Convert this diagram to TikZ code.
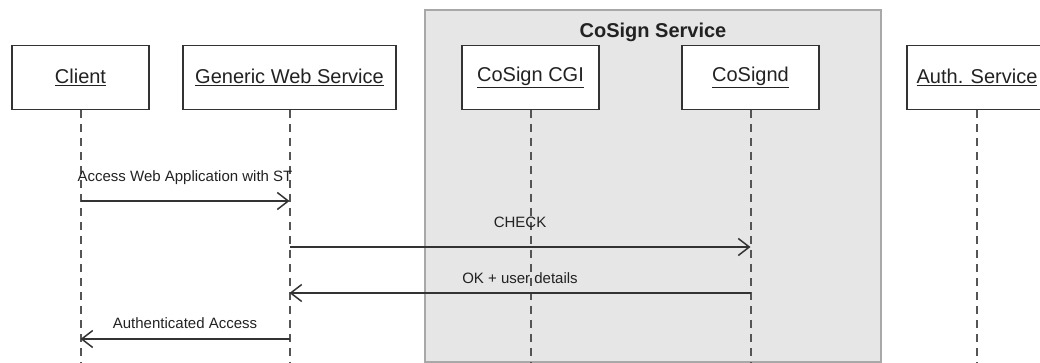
\documentclass[tikz,border=0pt]{standalone}
\usepackage{fontspec}
\setmainfont{Liberation Sans}
\usetikzlibrary{arrows.meta}
\definecolor{boxline}{HTML}{333333}
\definecolor{grpfill}{HTML}{E6E6E6}
\definecolor{grpline}{HTML}{A8A8A8}
\definecolor{lifeline}{HTML}{555555}
\definecolor{txt}{HTML}{222222}
\tikzset{
  actor/.style={draw=boxline, line width=1.5pt, fill=white, minimum height=64pt, inner sep=0pt, font=\fontsize{20}{24}\selectfont, text=txt},
  life/.style={draw=lifeline, line width=2pt, dash pattern=on 8pt off 6pt},
  msg/.style={draw=boxline, line width=1.5pt, -{Straight Barb[length=11pt,width=17pt,line width=1.5pt]}},
  msglabel/.style={font=\fontsize{15}{18}\selectfont, text=txt, inner sep=0pt},
}
\begin{document}
\begin{tikzpicture}[x=1pt,y=-1pt]
\useasboundingbox (0,0) rectangle (1040,363);
\clip (0,0) rectangle (1040,363);
% group container
\node[draw=grpline, fill=grpfill, line width=1.5pt, minimum width=456pt, minimum height=352pt, inner sep=0pt] (grp) at (653,186) {};
\node[font=\bfseries\fontsize{20}{24}\selectfont, text=txt] (grptitle) at (653,32) {CoSign Service};
% actors
\node[actor, minimum width=137pt] (client) at (80.5,77.5) {\underline{Client}};
\node[actor, minimum width=213pt] (gws) at (289.5,77.5) {\underline{Generic Web Service}};
\node[actor, minimum width=137pt] (cgi) at (530.5,77.5) {\underline{CoSign CGI}};
\node[actor, minimum width=137pt] (csd) at (750.5,77.5) {\underline{CoSignd}};
\node[actor, minimum width=140pt] (auth) at (977,77.5) {\underline{Auth. Service}};
% lifeline ends
\coordinate (clientEnd) at (client.south |- 0,365);
\coordinate (gwsEnd) at (gws.south |- 0,365);
\coordinate (cgiEnd) at (cgi.south |- 0,365);
\coordinate (csdEnd) at (csd.south |- 0,365);
\coordinate (authEnd) at (auth.south |- 0,365);
\draw[life] (client.south) -- (clientEnd);
\draw[life] (gws.south) -- (gwsEnd);
\draw[life] (cgi.south) -- (cgiEnd);
\draw[life] (csd.south) -- (csdEnd);
\draw[life] (auth.south) -- (authEnd);
% message points
\coordinate (m1a) at (client.south |- 0,201);
\coordinate (m1b) at (gws.south |- 0,201);
\coordinate (m2a) at (gws.south |- 0,247);
\coordinate (m2b) at (csd.south |- 0,247);
\coordinate (m3a) at (csd.south |- 0,293);
\coordinate (m3b) at (gws.south |- 0,293);
\coordinate (m4a) at (gws.south |- 0,339);
\coordinate (m4b) at (client.south |- 0,339);
% messages
\draw[msg] (m1a) -- node[msglabel, pos=0.5, yshift=23pt] (l1) {Access Web Application with ST} (m1b);
\draw[msg] (m2a) -- node[msglabel, pos=0.5, yshift=25pt] (l2) {CHECK} (m2b);
\draw[msg] (m3a) -- node[msglabel, pos=0.5, yshift=15pt] (l3) {OK + user details} (m3b);
\draw[msg] (m4a) -- node[msglabel, pos=0.5, yshift=16pt] (l4) {Authenticated Access} (m4b);
\end{tikzpicture}
\end{document}
